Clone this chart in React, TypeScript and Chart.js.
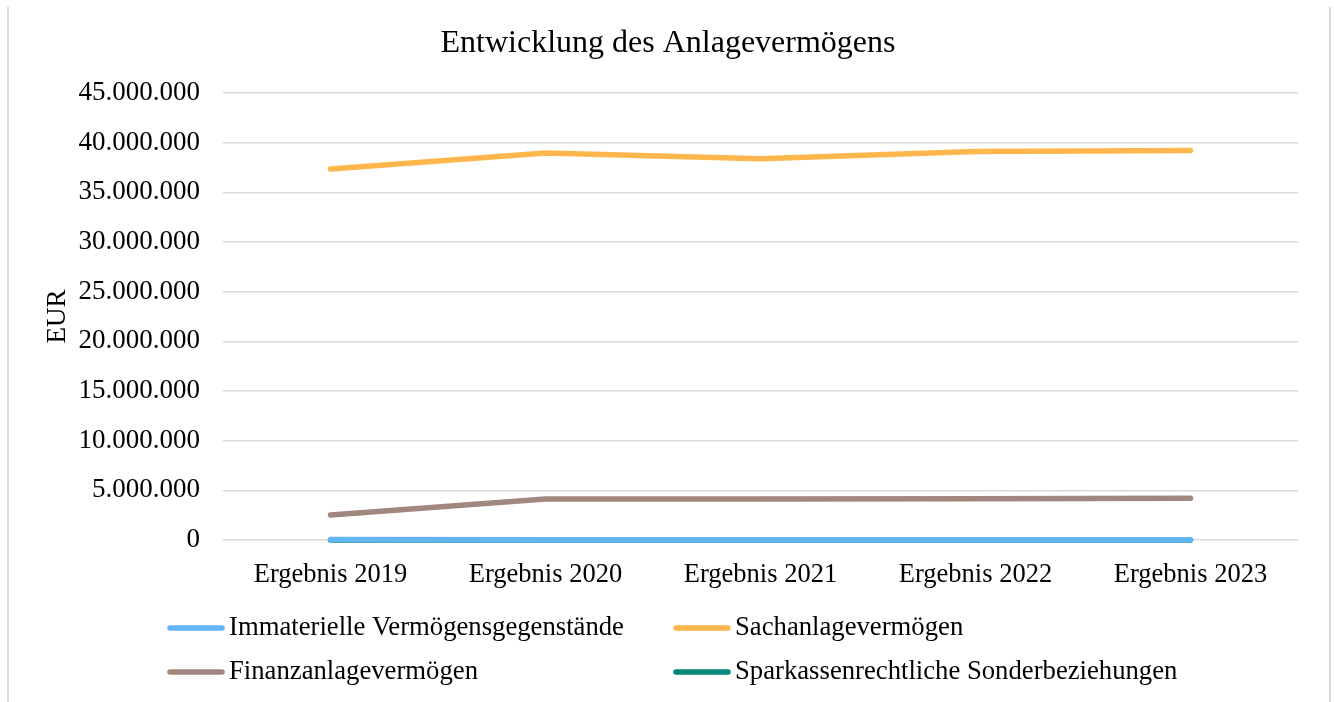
import React, { useEffect, useRef } from "react";
import { Chart, registerables } from "chart.js";

Chart.register(...registerables);

const categories = ["Ergebnis 2019", "Ergebnis 2020", "Ergebnis 2021", "Ergebnis 2022", "Ergebnis 2023"];
const immaterielle = [40000, 35000, 30000, 25000, 20000];
const sachanlage = [37350000, 38960000, 38370000, 39100000, 39200000];
const finanzanlage = [2520000, 4120000, 4120000, 4150000, 4200000];
const sparkassen = [0, 0, 0, 0, 0];
const seriesNames = [
  "Immaterielle Vermögensgegenstände",
  "Sachanlagevermögen",
  "Finanzanlagevermögen",
  "Sparkassenrechtliche Sonderbeziehungen",
];
const seriesColors = ["#64B5F6", "#FFB74D", "#A1887F", "#00897B"];
const yMax = 45000000;
const yStep = 5000000;

const FONT = "'Liberation Serif', 'Times New Roman', serif";

const legendPlugin = {
  id: "gridLegend",
  afterDraw(chart: any) {
    const ctx = chart.ctx;
    const pos = [
      { x: 168, y: 628 },
      { x: 674, y: 628 },
      { x: 168, y: 672 },
      { x: 674, y: 672 },
    ];
    ctx.save();
    chart.data.datasets.forEach((ds: any, i: number) => {
      const p = pos[i];
      ctx.strokeStyle = ds.borderColor;
      ctx.lineWidth = 5.5;
      ctx.lineCap = "round";
      ctx.beginPath();
      ctx.moveTo(p.x + 2, p.y);
      ctx.lineTo(p.x + 54, p.y);
      ctx.stroke();
      ctx.fillStyle = "#000";
      ctx.font = `26.7px ${FONT}`;
      ctx.textBaseline = "middle";
      ctx.textAlign = "left";
      ctx.fillText(ds.label, p.x + 61, p.y);
    });
    ctx.restore();
  },
};

export default function App() {
  const ref = useRef<HTMLCanvasElement>(null);
  useEffect(() => {
    const values = [immaterielle, sachanlage, finanzanlage, sparkassen];
    const chart = new Chart(ref.current!, {
      type: "line",
      data: {
        labels: categories,
        datasets: values.map((v, i) => ({
          label: seriesNames[i],
          data: v,
          borderColor: seriesColors[i],
          backgroundColor: seriesColors[i],
          borderWidth: 5.5,
          borderCapStyle: "round",
          borderJoinStyle: "round",
          pointRadius: 0,
          tension: 0,
          fill: false,
          clip: false,
        })),
      },
      options: {
        responsive: false,
        animation: false,
        layout: { padding: { left: 38, right: 36, top: 10, bottom: 112 } },
        plugins: {
          legend: { display: false },
          tooltip: { enabled: false },
          title: {
            display: true,
            text: "Entwicklung des Anlagevermögens",
            color: "#000",
            font: { family: FONT, size: 32, weight: "normal" },
            padding: { top: 14, bottom: 30.6 },
          },
        },
        scales: {
          x: {
            offset: true,
            grid: { display: false },
            border: { display: false },
            ticks: { color: "#000", font: { family: FONT, size: 26.5 }, padding: 11, maxRotation: 0 },
            afterFit: (s: any) => {
              s.height = 50;
            },
          },
          y: {
            min: 0,
            max: yMax,
            border: { display: false },
            grid: { color: "#D9D9D9", lineWidth: 1.5, drawTicks: false },
            ticks: {
              stepSize: yStep,
              color: "#000",
              padding: 23,
              font: { family: FONT, size: 27 },
              callback: (v: any) => Number(v).toLocaleString("de-DE"),
            },
            title: {
              display: true,
              text: "EUR",
              color: "#000",
              font: { family: FONT, size: 27 },
              padding: { top: 4, bottom: 0 },
            },
            afterFit: (s: any) => {
              s.width = 185;
            },
          },
        },
      },
      plugins: [legendPlugin],
    } as any);
    return () => chart.destroy();
  }, []);
  return (
    <div style={{ position: "absolute", left: 0, top: 0, width: 1334, height: 702, background: "#fff" }}>
      <div
        style={{
          position: "absolute",
          left: 7,
          top: 7,
          width: 1320,
          height: 700,
          borderLeft: "2px solid #D9D9D9",
          borderRight: "2px solid #D9D9D9",
        }}
      />
      <canvas ref={ref} width={1334} height={702} style={{ position: "absolute", left: 0, top: 0 }} />
    </div>
  );
}
